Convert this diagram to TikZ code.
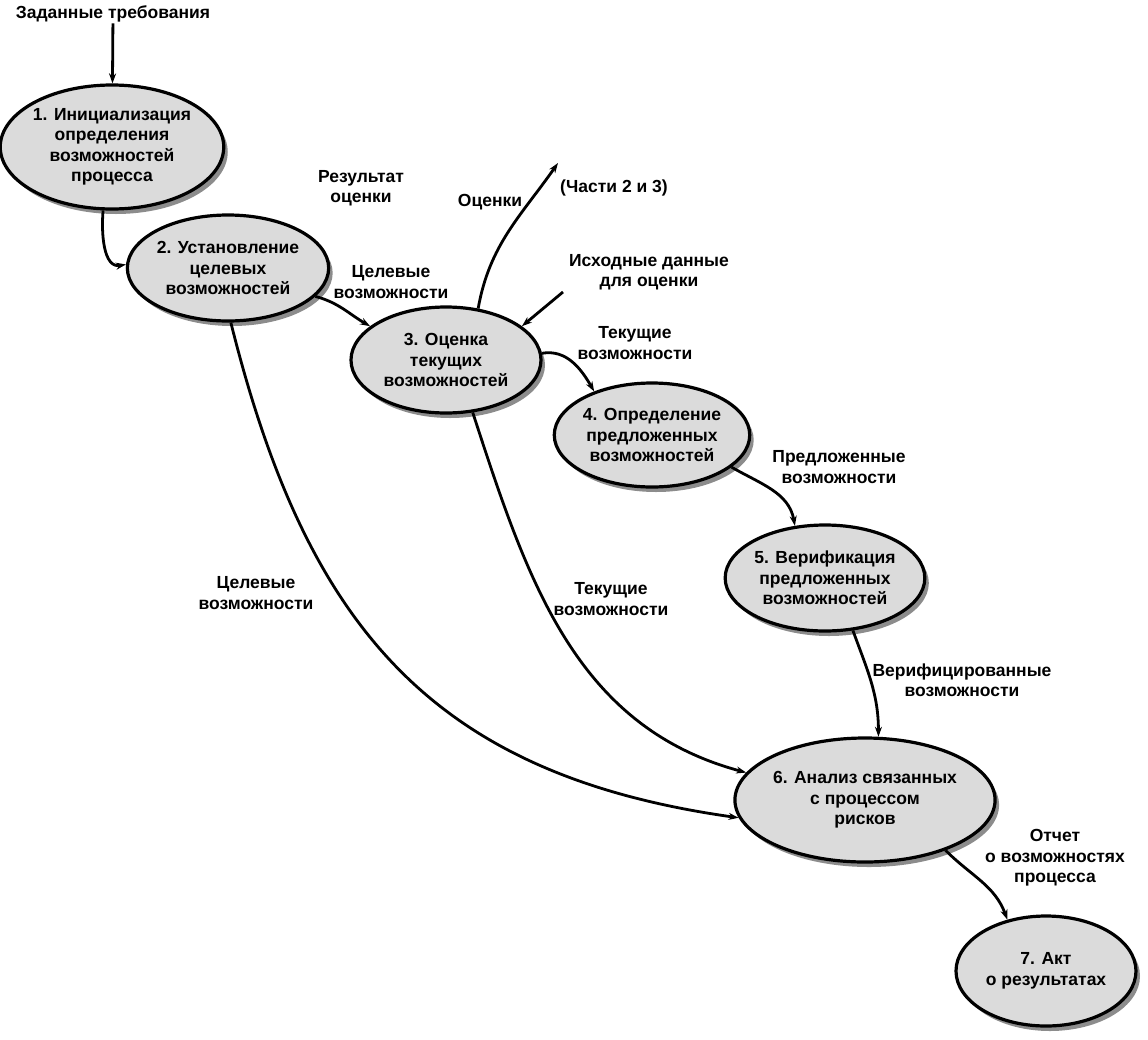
\documentclass[tikz,border=0pt]{standalone}
\usepackage{fontspec}
\setmainfont{Liberation Sans}
\usetikzlibrary{shapes.geometric,shadows,arrows.meta}

\begin{document}
\begin{tikzpicture}[x=1pt,y=1pt,font=\fontsize{17.5}{20.5}\selectfont\bfseries]
            \tikzstyle{stage}=[ellipse,draw,line width=3.2pt,fill=black!14,align=center,inner sep=0pt,
                drop shadow={shadow xshift=4pt,shadow yshift=-5pt,fill=black!45,opacity=1}]
            \tikzstyle{flow}=[line width=2.8pt,-{Stealth[length=10pt,width=7pt]}]
            \tikzstyle{lbl}=[align=center,inner sep=1pt]
            \useasboundingbox (0,-1039) rectangle (1148,0);
            % stages
            \node[stage,minimum width=206pt,minimum height=124pt] (init) at (112,-147) {1. Инициализация\\определения\\возможностей\\процесса};
            \node[stage,minimum width=188pt,minimum height=106pt] (goal) at (228,-268) {2. Установление\\целевых\\возможностей};
            \node[stage,minimum width=190pt,minimum height=106pt] (curr) at (446,-360) {3. Оценка\\текущих\\возможностей};
            \node[stage,minimum width=188pt,minimum height=104pt] (prop) at (652,-435) {4. Определение\\предложенных\\возможностей};
            \node[stage,minimum width=192pt,minimum height=106pt] (verif) at (825,-578) {5. Верификация\\предложенных\\возможностей};
            \node[stage,minimum width=214pt,minimum height=124pt] (risk) at (865,-800) {6. Анализ связанных\\с процессом\\рисков};
            \node[stage,minimum width=180pt,minimum height=110pt] (rep) at (1046,-971) {7. Акт\\о результатах};
            % texts
            \node[lbl] (req) at (113,-14) {Заданные требования};
            \node[lbl] (res) at (361,-188) {Результат\\оценки};
            \node[lbl] (est) at (490,-202) {Оценки};
            \node[lbl] (parts) at (614,-188) {(Части 2 и 3)};
            \node[lbl] (inp) at (649,-272) {Исходные данные\\для оценки};
            \node[lbl] (goaltxt) at (391,-282) {Целевые\\возможности};
            \node[lbl] (currtxt) at (635,-343) {Текущие\\возможности};
            \node[lbl] (proptxt) at (839,-467) {Предложенные\\возможности};
            \node[lbl] (goaltxtb) at (256,-593) {Целевые\\возможности};
            \node[lbl] (currtxtb) at (611,-599) {Текущие\\возможности};
            \node[lbl] (veriftxt) at (962,-680) {Верифицированные\\возможности};
            \node[lbl] (reptxt) at (1055,-858) {Отчет\\о возможностях\\процесса};
            \coordinate (estend) at (558,-163);
            \coordinate (inpstart) at (563,-292);
            % connectors
            \draw[flow] (req) -- (init);
            \draw[flow] (init.262) to[out=-95,in=190] (goal.178);
            \draw[flow] (goal.-18) to[out=-15,in=150] (curr.156);
            \draw[flow] (curr.58) to[out=80,in=235] (estend);
            \draw[flow] (inpstart) -- (curr.24);
            \draw[flow] (curr.4) to[out=10,in=120] (prop.143);
            \draw[flow] (prop.-22) to[out=-30,in=100] (verif.120);
            \draw[flow] (verif.-62) to[out=-70,in=90] (risk.78);
            \draw[flow] (goal.-87) to[out=-76,in=172,looseness=1.12] (risk.188);
            \draw[flow] (curr.-63) to[out=-72,in=165,looseness=1.0] (risk.167);
            \draw[flow] (risk.-32) to[out=-45,in=110] (rep.127);
        \end{tikzpicture}
\end{document}
